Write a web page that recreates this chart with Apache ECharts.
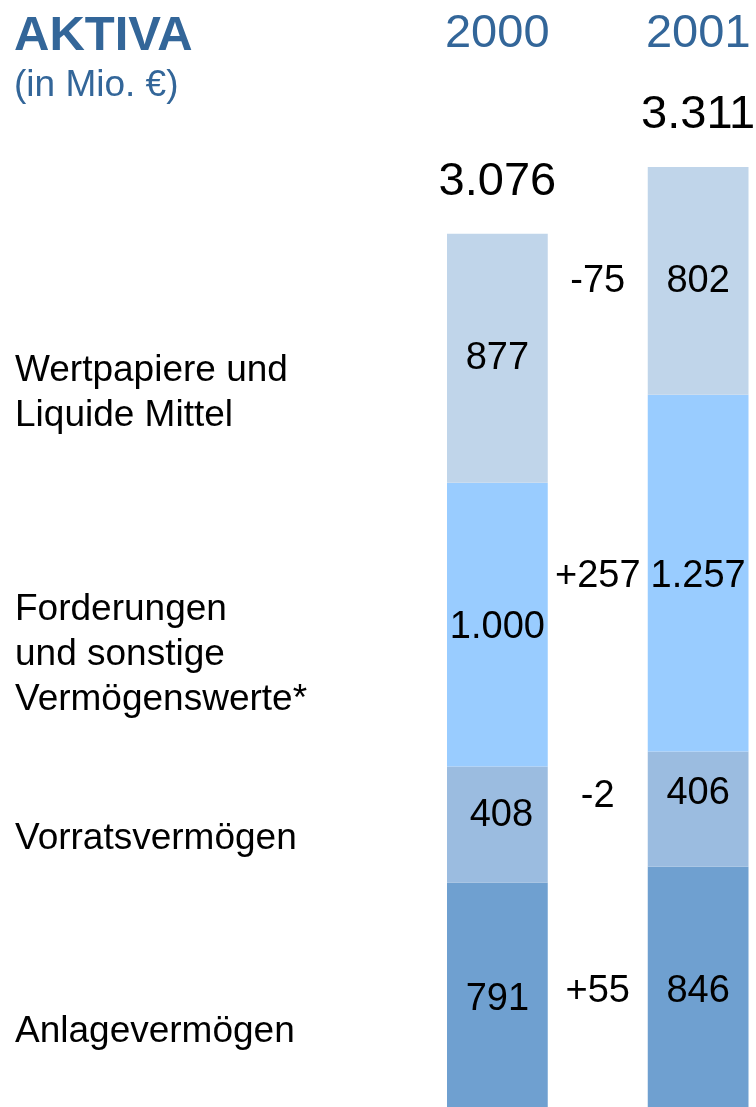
<!DOCTYPE html>
<html><head><meta charset="utf-8">
<script src="https://cdn.jsdelivr.net/npm/echarts@6/dist/echarts.min.js"></script>
<style>html,body{margin:0;padding:0;background:#fff}#c{width:756px;height:1107px}</style>
</head><body><div id="c"></div>
<script>
// ---- data ----
const years = ['2000', '2001'];
const seriesNames = ['Anlagevermögen', 'Vorratsvermögen', 'Forderungen\nund sonstige\nVermögenswerte*', 'Wertpapiere und\nLiquide Mittel'];
const anlage = [791, 846];
const vorrat = [408, 406];
const forderungen = [1000, 1257];
const wertpapiere = [877, 802];
const titleText = 'AKTIVA';
const unitText = '(in Mio. €)';

// ---- styles ----
const FONT = '"Liberation Sans", Arial, Helvetica, sans-serif';
const BLUE = '#336699';
const segStyles = [
  { color: '#6FA0D0', off: [[0, 5], [0, 5]], labelY: 1032 },
  { color: '#9BBCE0', off: [[4, -9], [0, -16]], labelY: 839 },
  { color: '#99CCFF', off: [[0, 3], [0, 3]], labelY: 655 },
  { color: '#C0D5EA', off: [[0, 0], [0, 1]], labelY: 393 }
];
const segData = [anlage, vorrat, forderungen, wertpapiere];

const fmt = n => String(Math.abs(n)).replace(/\B(?=(\d{3})+(?!\d))/g, '.');
const fmtSigned = n => (n > 0 ? '+' : '-') + fmt(n);

const cats = [years[0], '', years[1]];
const labelBase = { show: true, color: '#000', fontFamily: FONT, fontSize: 38, position: 'inside' };

const series = segData.map((arr, i) => {
  const st = segStyles[i];
  const delta = arr[1] - arr[0];
  return {
    name: seriesNames[i],
    type: 'bar',
    stack: 'total',
    barWidth: 101,
    itemStyle: { color: st.color },
    emphasis: { disabled: true },
    data: [
      { value: arr[0], label: Object.assign({}, labelBase, { offset: st.off[0], formatter: () => fmt(arr[0]) }) },
      { value: arr[1], itemStyle: { color: 'rgba(0,0,0,0)' },
        label: Object.assign({}, labelBase, { offset: [0, st.off[1][1] + (i === 1 ? 3 : 0)], formatter: () => fmtSigned(delta) }) },
      { value: arr[1], label: Object.assign({}, labelBase, { offset: st.off[1], formatter: () => fmt(arr[1]) }) }
    ]
  };
});

const totals = [0, 1].map(k => segData.reduce((s, a) => s + a[k], 0));
const totalLabel = k => ({ show: true, position: 'top', distance: 28, fontFamily: FONT, fontSize: 47, color: '#000', formatter: () => fmt(totals[k]) });
series.push({
  name: 'Summe',
  type: 'bar',
  stack: 'total',
  barWidth: 101,
  emphasis: { disabled: true },
  data: [
    { value: 0, label: totalLabel(0) },
    { value: null },
    { value: 0, label: totalLabel(1) }
  ]
});

const graphics = seriesNames.map((n, i) => ({
  type: 'text',
  x: 15,
  y: segStyles[i].labelY,
  style: { text: n, fontFamily: FONT, fontSize: 37, lineHeight: 45, fill: '#000', verticalAlign: 'middle', align: 'left' }
}));

const chart = echarts.init(document.getElementById('c'), null, { renderer: 'canvas' });
chart.setOption({
  animation: false,
  backgroundColor: '#fff',
  title: {
    text: titleText,
    subtext: unitText,
    left: 9,
    top: 7,
    itemGap: 6,
    textStyle: { fontFamily: FONT, fontSize: 49, fontWeight: 'bold', color: BLUE },
    subtextStyle: { fontFamily: FONT, fontSize: 37, color: BLUE }
  },
  grid: { left: 447, right: 7.5, top: 167, bottom: 0, containLabel: false },
  xAxis: {
    type: 'category',
    position: 'top',
    data: cats,
    axisLine: { show: false },
    axisTick: { show: false },
    splitLine: { show: false },
    axisLabel: { fontFamily: FONT, fontSize: 47, color: BLUE, margin: 133, verticalAlign: 'middle', interval: 0 }
  },
  yAxis: { type: 'value', min: 0, max: 'dataMax', show: false, splitLine: { show: false } },
  graphic: graphics,
  series: series
});
</script>
</body></html>
